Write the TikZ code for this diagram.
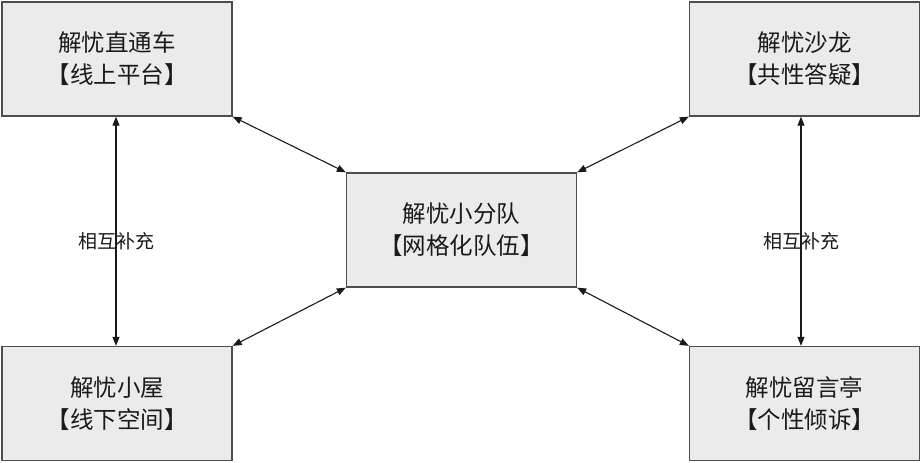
\documentclass[tikz,border=0pt]{standalone}
\usepackage{fontspec}
\setmainfont{Noto Sans CJK SC}
\usepackage{tikz}
\usetikzlibrary{arrows.meta, positioning}
\definecolor{caixa}{HTML}{EBEBEB}
\definecolor{borda}{HTML}{4D4D4D}
\definecolor{texto}{HTML}{1A1A1A}

\tikzset{
  caixa/.style={draw=borda, fill=caixa, line width=1.3pt, minimum width=230pt, minimum height=114pt,
    align=center, font=\fontsize{23.5}{32}\selectfont, text=texto, inner sep=0pt},
  seta/.style={{Triangle[length=9pt,width=7pt]}-{Triangle[length=9pt,width=7pt]}, line width=1.1pt, draw=texto},
  rotulo/.style={font=\fontsize{19}{22}\selectfont, text=texto}
}

\begin{document}
\begin{tikzpicture}[x=1pt,y=-1pt]
\useasboundingbox (0,0) rectangle (921,463);

% Caixas
\node[caixa] (tl) at (117,59) {解忧直通车\\【线上平台】};
\node[caixa] (tr) at (804.5,59) {解忧沙龙\\【共性答疑】};
\node[caixa] (c) at (461.5,230) {解忧小分队\\【网格化队伍】};
\node[caixa] (bl) at (117,403.5) {解忧小屋\\【线下空间】};
\node[caixa] (br) at (804.5,403.5) {解忧留言亭\\【个性倾诉】};

% Ligações com o centro
\draw[seta] (tl.south east) -- (c.north west);
\draw[seta] (tr.south west) -- (c.north east);
\draw[seta] (bl.north east) -- (c.south west);
\draw[seta] (br.north west) -- (c.south east);

% Ligações verticais
\draw[seta] ([xshift=-1pt]tl.south) -- ([xshift=-1pt]bl.north);
\draw[seta] ([xshift=-3.5pt]tr.south) -- ([xshift=-3.5pt]br.north);

% Rótulos
\node[rotulo] (rl) at (116,241) {相互补充};
\node[rotulo] (rr) at (801,241) {相互补充};

\end{tikzpicture}
\end{document}
